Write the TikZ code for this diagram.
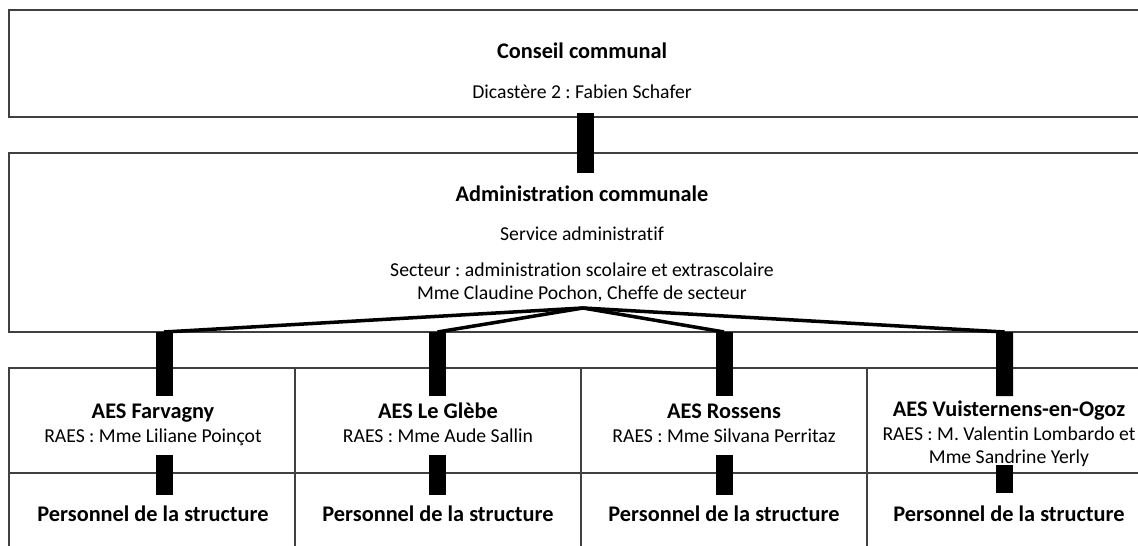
\documentclass[tikz,border=0pt]{standalone}
\usepackage{fontspec}
\setmainfont{Carlito}[Ligatures=NoCommon]
\frenchspacing

\newcommand{\aesnom}[1]{{\fontsize{12.7}{14}\selectfont\bfseries #1}}

\tikzset{
    titre/.style={anchor=base,align=center,font=\fontsize{12.7}{14}\selectfont\bfseries},
    texte/.style={anchor=base,align=center,font=\fontsize{11.2}{12.6}\selectfont},
    bar/.style={line width=0.34cm},
    fil/.style={line width=2pt,line join=round}
}

\begin{document}
\begin{tikzpicture}
    \useasboundingbox (0,0) rectangle (22.76,-10.92);
    \clip (0,0) rectangle (22.76,-10.92);

        \begin{scope}[every node/.style={rectangle,draw=black!75,line width=1pt,inner sep=0pt}]
            \node[minimum width=22.88cm,minimum height=2.13cm] (conseil) at (11.62,-1.27) {};
            \node[minimum width=22.88cm,minimum height=3.58cm] (admin) at (11.62,-4.85) {};
            \node[minimum width=5.72cm,minimum height=2.10cm] (farvagny) at (3.04,-8.41) {};
            \node[minimum width=5.72cm,minimum height=2.10cm] (glebe) at (8.76,-8.41) {};
            \node[minimum width=5.72cm,minimum height=2.10cm] (rossens) at (14.48,-8.41) {};
            \node[minimum width=5.72cm,minimum height=2.10cm] (vuist) at (20.20,-8.41) {};
            \node[minimum width=5.72cm,minimum height=1.74cm] (pfarvagny) at (3.04,-10.33) {};
            \node[minimum width=5.72cm,minimum height=1.74cm] (pglebe) at (8.76,-10.33) {};
            \node[minimum width=5.72cm,minimum height=1.74cm] (prossens) at (14.48,-10.33) {};
            \node[minimum width=5.72cm,minimum height=1.74cm] (pvuist) at (20.20,-10.33) {};
        \end{scope}

        % textes
        \node[titre] (tconseil) at (11.64,-1.18) {Conseil communal};
        \node[texte] (tdicastere) at (11.64,-1.98) {Dicastère 2 : Fabien Schafer};
        \node[titre] (tadmin) at (11.64,-4.04) {Administration communale};
        \node[texte] (tservice) at (11.64,-4.80) {Service administratif};
        \node[texte] (tsecteur) at (11.64,-5.98) {Secteur : administration scolaire et extrascolaire\\Mme Claudine Pochon, Cheffe de secteur};

        \node[texte] (tfarvagny) at (3.06,-8.84) {\aesnom{AES Farvagny}\\[1pt]RAES : Mme Liliane Poinçot};
        \node[texte] (tglebe) at (8.76,-8.84) {\aesnom{AES Le Glèbe}\\[1pt]RAES : Mme Aude Sallin};
        \node[texte] (trossens) at (14.48,-8.84) {\aesnom{AES Rossens}\\[1pt]RAES : Mme Silvana Perritaz};
        \node[texte] (tvuist) at (20.18,-9.26) {\aesnom{AES Vuisternens-en-Ogoz}\\[1pt]RAES : M. Valentin Lombardo et\\Mme Sandrine Yerly};

        \node[titre] (tpfarvagny) at (3.06,-10.42) {Personnel de la structure};
        \node[titre] (tpglebe) at (8.76,-10.42) {Personnel de la structure};
        \node[titre] (tprossens) at (14.48,-10.42) {Personnel de la structure};
        \node[titre] (tpvuist) at (20.18,-10.42) {Personnel de la structure};

        % liaisons
        \coordinate (apex) at (11.66,-6.16);
        \coordinate (h1) at (3.28,-6.64);
        \coordinate (h2) at (8.75,-6.64);
        \coordinate (h3) at (14.48,-6.64);
        \coordinate (h4) at (20.09,-6.64);

        \draw[bar] ([xshift=0.08cm,yshift=0.1cm]conseil.south) -- ([xshift=0.08cm,yshift=-0.42cm]admin.north);

        \draw[fil] (apex) -- (h1);
        \draw[fil] (apex) -- (h2);
        \draw[fil] (apex) -- (h3);
        \draw[fil] (apex) -- (h4);

        \draw[bar] (h1) -- ([xshift=0.24cm,yshift=-0.58cm]farvagny.north);
        \draw[bar] (h2) -- ([xshift=-0.01cm,yshift=-0.58cm]glebe.north);
        \draw[bar] (h3) -- ([yshift=-0.58cm]rossens.north);
        \draw[bar] (h4) -- ([xshift=-0.11cm,yshift=-0.58cm]vuist.north);

        \draw[bar] ([xshift=0.24cm,yshift=0.34cm]pfarvagny.north) -- ([xshift=0.24cm,yshift=-0.46cm]pfarvagny.north);
        \draw[bar] ([xshift=-0.01cm,yshift=0.34cm]pglebe.north) -- ([xshift=-0.01cm,yshift=-0.46cm]pglebe.north);
        \draw[bar] ([yshift=0.34cm]prossens.north) -- ([yshift=-0.46cm]prossens.north);
        \draw[bar] ([xshift=-0.11cm,yshift=0.14cm]pvuist.north) -- ([xshift=-0.11cm,yshift=-0.42cm]pvuist.north);

    \end{tikzpicture}
\end{document}
